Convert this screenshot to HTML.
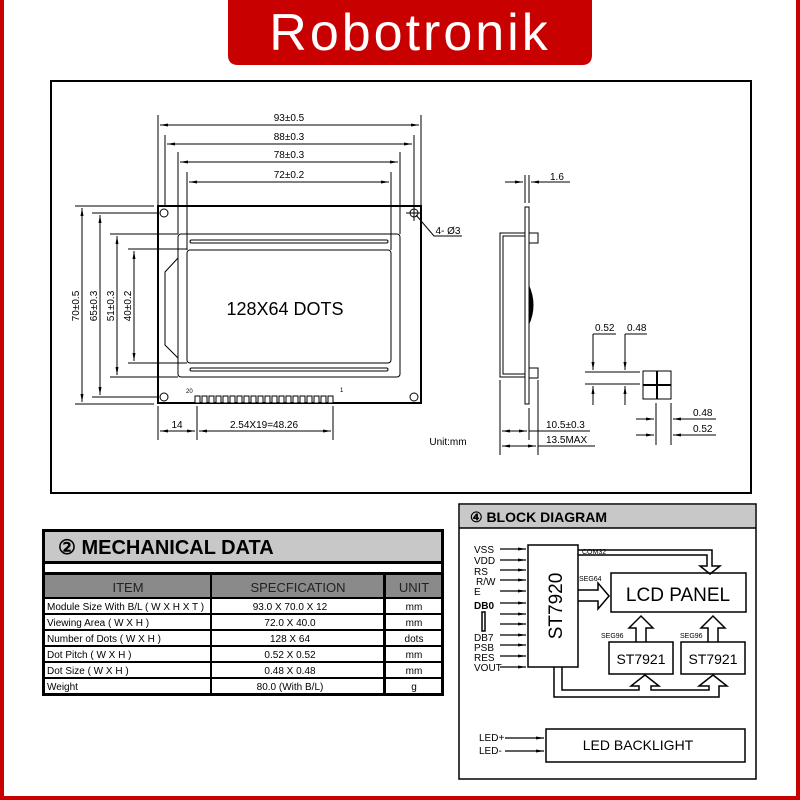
<!DOCTYPE html>
<html><head><meta charset="utf-8"><style>
html,body{margin:0;padding:0;background:#fff}
svg{display:block}
text{font-family:"Liberation Sans",sans-serif}
</style></head><body>
<svg width="800" height="800" viewBox="0 0 800 800" xmlns="http://www.w3.org/2000/svg">
<defs>
<marker id="a" markerWidth="8" markerHeight="4" refX="8" refY="2" orient="auto" markerUnits="userSpaceOnUse"><path d="M0,0.5 L8,2 L0,3.5z" fill="#000"/></marker>
<marker id="b" markerWidth="8" markerHeight="4" refX="0" refY="2" orient="auto" markerUnits="userSpaceOnUse"><path d="M8,0.5 L0,2 L8,3.5z" fill="#000"/></marker>
</defs>
<rect width="800" height="800" fill="#fff"/>
<rect x="0" y="0" width="4" height="800" fill="#c80000"/>
<rect x="796" y="0" width="4" height="800" fill="#c80000"/>
<rect x="0" y="796" width="800" height="4" fill="#c80000"/>
<path d="M228,0 H592 V55 Q592,65 582,65 H238 Q228,65 228,55z" fill="#c80000"/>
<text x="410" y="50" font-size="52" fill="#fff" text-anchor="middle" letter-spacing="3">Robotronik</text>

<rect x="51" y="81" width="700" height="412" fill="none" stroke="#000" stroke-width="2"/>
<g stroke="#000" stroke-width="1" fill="none">
<rect x="158" y="206" width="263" height="197" stroke-width="2"/>
<rect x="178" y="234" width="222" height="143" rx="3"/>
<rect x="187" y="250" width="204" height="113" rx="3"/>
<path d="M178,258 L165,272 V345 L178,358"/>
<rect x="190" y="240" width="198" height="3" rx="1.5"/>
<rect x="190" y="368" width="198" height="3" rx="1.5"/>
<circle cx="164" cy="213" r="4"/><circle cx="414" cy="213" r="4"/>
<circle cx="164" cy="397" r="4"/><circle cx="414" cy="397" r="4"/>
<path d="M406,213 H422 M414,205 V221"/>
<path d="M158,115 V206 M421,115 V206 M165,135 V206 M414,135 V206 M178,152 V234 M400,152 V234 M187,172 V250 M391,172 V250"/>
<path d="M160,125 H419" marker-start="url(#b)" marker-end="url(#a)"/>
<path d="M167,144 H412" marker-start="url(#b)" marker-end="url(#a)"/>
<path d="M180,162 H398" marker-start="url(#b)" marker-end="url(#a)"/>
<path d="M189,182 H389" marker-start="url(#b)" marker-end="url(#a)"/>
<path d="M75,206 H154 M75,404 H154 M92,213 H158 M92,397 H158 M110,234 H178 M110,377 H178 M128,249 H187 M128,363 H187"/>
<path d="M82,208 V402" marker-start="url(#b)" marker-end="url(#a)"/>
<path d="M100,215 V395" marker-start="url(#b)" marker-end="url(#a)"/>
<path d="M117,236 V375" marker-start="url(#b)" marker-end="url(#a)"/>
<path d="M134,251 V361" marker-start="url(#b)" marker-end="url(#a)"/>
<path d="M158,406 V440 M197,406 V440 M333,406 V440"/>
<path d="M160,431 H195" marker-start="url(#b)" marker-end="url(#a)"/>
<path d="M199,431 H331" marker-start="url(#b)" marker-end="url(#a)"/>
<path d="M416,215 L434,236 H462"/>
</g>
<g fill="#fff" stroke="#000" stroke-width="1">
<rect x="195" y="396" width="5" height="7"/><rect x="202" y="396" width="5" height="7"/><rect x="209" y="396" width="5" height="7"/><rect x="216" y="396" width="5" height="7"/><rect x="223" y="396" width="5" height="7"/><rect x="230" y="396" width="5" height="7"/><rect x="237" y="396" width="5" height="7"/><rect x="244" y="396" width="5" height="7"/><rect x="251" y="396" width="5" height="7"/><rect x="258" y="396" width="5" height="7"/><rect x="265" y="396" width="5" height="7"/><rect x="272" y="396" width="5" height="7"/><rect x="279" y="396" width="5" height="7"/><rect x="286" y="396" width="5" height="7"/><rect x="293" y="396" width="5" height="7"/><rect x="300" y="396" width="5" height="7"/><rect x="307" y="396" width="5" height="7"/><rect x="314" y="396" width="5" height="7"/><rect x="321" y="396" width="5" height="7"/><rect x="328" y="396" width="5" height="7"/>
</g>
<g font-size="10" fill="#000" text-anchor="middle">
<text x="289" y="121">93±0.5</text>
<text x="289" y="140">88±0.3</text>
<text x="289" y="158">78±0.3</text>
<text x="289" y="178">72±0.2</text>
<text x="177" y="428">14</text>
<text x="264" y="428">2.54X19=48.26</text>
<text transform="translate(79,306) rotate(-90)">70±0.5</text>
<text transform="translate(97,306) rotate(-90)">65±0.3</text>
<text transform="translate(114,306) rotate(-90)">51±0.3</text>
<text transform="translate(131,306) rotate(-90)">40±0.2</text>
<text x="448" y="234">4- Ø3</text>
<text x="448" y="445">Unit:mm</text>
</g>
<text x="186" y="393" font-size="6">20</text>
<text x="340" y="392" font-size="6">1</text>
<text x="285" y="315" font-size="18" text-anchor="middle">128X64 DOTS</text>

<g stroke="#000" stroke-width="1" fill="none">
<rect x="525" y="207" width="4" height="197"/>
<rect x="500" y="233" width="25" height="144"/>
<path d="M525,236 H503 V374 H525"/>
<rect x="529" y="233" width="9" height="10"/>
<rect x="529" y="368" width="9" height="10"/>
<path d="M525,175 V203 M529,175 V203"/>
<path d="M505,182 H523" marker-end="url(#a)"/>
<path d="M570,182 H531" marker-end="url(#a)"/>
<path d="M500,380 V455 M529,408 V440 M538,380 V455"/>
<path d="M502,431 H527" marker-start="url(#b)" marker-end="url(#a)"/>
<path d="M529,431 H590"/>
<path d="M502,446 H536" marker-start="url(#b)" marker-end="url(#a)"/>
<path d="M538,446 H595"/>
<rect x="643" y="371" width="28" height="28"/>
<path d="M657,371 V399 M643,385 H671" stroke-width="2"/>
<path d="M585,372 H640 M585,384 H640"/>
<path d="M593,334 H616 M593,334 V370" />
<path d="M625,334 H647 M625,334 V370"/>
<path d="M593,405 V386 M625,405 V386"/>
<path d="M593,360 V370" marker-end="url(#a)"/>
<path d="M625,360 V370" marker-end="url(#a)"/>
<path d="M593,398 V386" marker-end="url(#a)"/>
<path d="M625,398 V386" marker-end="url(#a)"/>
<path d="M656,403 V445 M671,403 V445"/>
<path d="M636,419 H654" marker-end="url(#a)"/>
<path d="M636,435 H654" marker-end="url(#a)"/>
<path d="M716,419 H673" marker-end="url(#a)"/>
<path d="M716,435 H673" marker-end="url(#a)"/>
</g>
<path d="M529,285 Q538,305 529,325z" fill="#000"/>
<g font-size="10" fill="#000">
<text x="550" y="180">1.6</text>
<text x="546" y="428">10.5±0.3</text>
<text x="546" y="443">13.5MAX</text>
<text x="595" y="331">0.52</text>
<text x="627" y="331">0.48</text>
<text x="693" y="416">0.48</text>
<text x="693" y="432">0.52</text>
</g>

<rect x="42" y="529" width="402" height="167" fill="#000"/>
<rect x="45" y="532" width="396" height="29" fill="#c8c8c8"/>
<text x="58" y="554" font-size="20" font-weight="bold">② MECHANICAL DATA</text>
<rect x="45" y="564" width="396" height="8" fill="#fff"/>
<rect x="45" y="575" width="165" height="22" fill="#8a8a8a"/>
<rect x="212" y="575" width="171" height="22" fill="#8a8a8a"/>
<rect x="386" y="575" width="55" height="22" fill="#8a8a8a"/>
<g font-size="13" fill="#222" text-anchor="middle">
<text x="128" y="592">ITEM</text><text x="298" y="592">SPECFICATION</text><text x="414" y="592">UNIT</text>
</g>
<g fill="#fff">
<rect x="45" y="599" width="165" height="14"/><rect x="212" y="599" width="171" height="14"/><rect x="386" y="599" width="55" height="14"/>
<rect x="45" y="615" width="165" height="14"/><rect x="212" y="615" width="171" height="14"/><rect x="386" y="615" width="55" height="14"/>
<rect x="45" y="631" width="165" height="14"/><rect x="212" y="631" width="171" height="14"/><rect x="386" y="631" width="55" height="14"/>
<rect x="45" y="647" width="165" height="14"/><rect x="212" y="647" width="171" height="14"/><rect x="386" y="647" width="55" height="14"/>
<rect x="45" y="663" width="165" height="14"/><rect x="212" y="663" width="171" height="14"/><rect x="386" y="663" width="55" height="14"/>
<rect x="45" y="679" width="165" height="14"/><rect x="212" y="679" width="171" height="14"/><rect x="386" y="679" width="55" height="14"/>
</g>
<g font-size="10" fill="#000">
<text x="47" y="610">Module Size With B/L ( W X H X T )</text>
<text x="47" y="626">Viewing Area ( W X H )</text>
<text x="47" y="642">Number of Dots ( W X H )</text>
<text x="47" y="658">Dot Pitch ( W X H )</text>
<text x="47" y="674">Dot Size ( W X H )</text>
<text x="47" y="690">Weight</text>
</g>
<g font-size="10" fill="#000" text-anchor="middle">
<text x="290" y="610">93.0 X 70.0 X 12</text>
<text x="290" y="626">72.0 X 40.0</text>
<text x="290" y="642">128 X 64</text>
<text x="290" y="658">0.52 X 0.52</text>
<text x="290" y="674">0.48 X 0.48</text>
<text x="290" y="690">80.0 (With B/L)</text>
<text x="414" y="610">mm</text><text x="414" y="626">mm</text><text x="414" y="642">dots</text>
<text x="414" y="658">mm</text><text x="414" y="674">mm</text><text x="414" y="690">g</text>
</g>

<rect x="459" y="504" width="297" height="275" fill="#fff" stroke="#000" stroke-width="1.5"/>
<rect x="460" y="505" width="295" height="23" fill="#c8c8c8"/>
<line x1="459" y1="528" x2="756" y2="528" stroke="#000" stroke-width="1.5"/>
<text x="470" y="522" font-size="14" font-weight="bold">④ BLOCK DIAGRAM</text>
<g stroke="#000" stroke-width="1.5" fill="none">
<rect x="528" y="545" width="50" height="122"/>
<rect x="611" y="573" width="135" height="39"/>
<rect x="609" y="642" width="64" height="32"/>
<rect x="681" y="642" width="64" height="32"/>
<rect x="546" y="729" width="199" height="33"/>
<path d="M578,550 H712 V566 H720 L710,574 L700,566 H707 V555 H578"/>
<path d="M578,590 H598 V583 L609,596 L598,609 V601 H578"/>
<path d="M636,642 V628 H629 L641,616 L653,628 H646 V642"/>
<path d="M708,642 V628 H701 L713,616 L725,628 H718 V642"/>
<path d="M554,667 V697 H719 V686 H727 L713,675 L699,686 H709 V690 H651 V686 H659 L645,675 L631,686 H639 V690 H562 V667"/>
<rect x="482" y="612" width="3" height="19"/>
</g>
<g stroke="#000" stroke-width="1.2">
<line x1="500" y1="549" x2="526" y2="549" marker-end="url(#a)"/>
<line x1="500" y1="560" x2="526" y2="560" marker-end="url(#a)"/>
<line x1="500" y1="570" x2="526" y2="570" marker-end="url(#a)"/>
<line x1="500" y1="580" x2="526" y2="580" marker-end="url(#a)"/>
<line x1="500" y1="591" x2="526" y2="591" marker-end="url(#a)"/>
<line x1="500" y1="603" x2="526" y2="603" marker-end="url(#a)"/>
<line x1="500" y1="614" x2="526" y2="614" marker-end="url(#a)"/>
<line x1="500" y1="624" x2="526" y2="624" marker-end="url(#a)"/>
<line x1="500" y1="635" x2="526" y2="635" marker-end="url(#a)"/>
<line x1="500" y1="645" x2="526" y2="645" marker-end="url(#a)"/>
<line x1="500" y1="656" x2="526" y2="656" marker-end="url(#a)"/>
<line x1="500" y1="667" x2="526" y2="667" marker-end="url(#a)"/>
<line x1="505" y1="738" x2="544" y2="738" marker-end="url(#a)"/>
<line x1="505" y1="751" x2="544" y2="751" marker-end="url(#a)"/>
</g>
<g font-size="10" fill="#000">
<text x="474" y="553">VSS</text>
<text x="474" y="564">VDD</text>
<text x="474" y="575">RS</text>
<text x="476" y="585">R/W</text>
<text x="474" y="595">E</text>
<text x="474" y="609" font-weight="bold">DB0</text>
<text x="474" y="641">DB7</text>
<text x="474" y="651">PSB</text>
<text x="474" y="661">RES</text>
<text x="474" y="671">VOUT</text>
<text x="479" y="741">LED+</text>
<text x="479" y="754">LED-</text>
</g>
<g font-size="7" fill="#000">
<text x="582" y="554">COM32</text>
<text x="579" y="581">SEG64</text>
<text x="601" y="638">SEG96</text>
<text x="680" y="638">SEG96</text>
</g>
<text transform="translate(562,606) rotate(-90)" font-size="19" text-anchor="middle">ST7920</text>
<text x="678" y="601" font-size="19" text-anchor="middle">LCD PANEL</text>
<text x="641" y="664" font-size="14" text-anchor="middle">ST7921</text>
<text x="713" y="664" font-size="14" text-anchor="middle">ST7921</text>
<text x="638" y="750" font-size="14" text-anchor="middle">LED BACKLIGHT</text>
</svg>
</body></html>
